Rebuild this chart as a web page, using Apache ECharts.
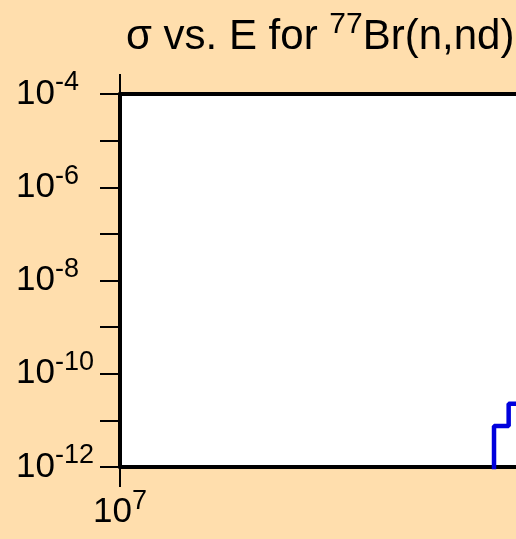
<!DOCTYPE html>
<html>
<head>
<meta charset="utf-8">
<script src="https://cdn.jsdelivr.net/npm/echarts@6/dist/echarts.min.js"></script>
<style>
  html, body { margin: 0; padding: 0; background: #FFDEAD; overflow: hidden; }
  #chart { width: 516px; height: 539px; }
</style>
</head>
<body>
<div id="chart"></div>
<script>
// energy (eV) and cross section values
const energies = [1.45e7, 1.5e7, 1.524e7, 1.56e7];
const sigma = [1e-14, 7.6e-12, 2.26e-11, 2.26e-11];

const xRange = [1e7, 1e8];
const yRange = [1e-12, 1e-4];
const xLabelValues = [1e7];

const font = "'Liberation Sans', Arial, sans-serif";

function powLabel(v) {
  const e = Math.round(Math.log10(v));
  return '{b|10}{s|' + e + '}';
}

const labelRich = {
  b: { fontSize: 35, lineHeight: 35, color: '#000', fontFamily: font },
  s: { fontSize: 27, lineHeight: 27, color: '#000', fontFamily: font, padding: [0, 0, 22, 0] }
};

const chart = echarts.init(document.getElementById('chart'));

const option = {
  backgroundColor: '#FFDEAD',
  animation: false,
  title: {
    text: '{a|σ vs. E for }{s|77}{a|Br(n,nd)}',
    left: 126,
    top: 16,
    padding: 0,
    textStyle: {
      fontWeight: 'normal',
      rich: {
        a: { fontSize: 42, lineHeight: 42, color: '#000', fontFamily: font, fontWeight: 'normal' },
        s: { fontSize: 30, lineHeight: 30, color: '#000', fontFamily: font, fontWeight: 'normal', padding: [0, 0, 24, 0] }
      }
    }
  },
  grid: {
    left: 120,
    top: 94,
    width: 2124,
    height: 373,
    show: true,
    backgroundColor: '#fff',
    borderWidth: 0,
    outerBoundsMode: 'none'
  },
  xAxis: [
    {
      type: 'log',
      position: 'bottom',
      min: xRange[0],
      max: xRange[1],
      axisLine: { lineStyle: { color: '#000', width: 4 } },
      axisTick: { length: 20, lineStyle: { color: '#000', width: 2 } },
      splitLine: { show: false },
      axisLabel: {
        margin: 28,
        formatter: v => xLabelValues.some(x => Math.abs(x - v) / x < 1e-6) ? powLabel(v) : '',
        rich: labelRich
      }
    },
    {
      type: 'log',
      position: 'top',
      min: xRange[0],
      max: xRange[1],
      axisLine: { lineStyle: { color: '#000', width: 4 } },
      axisTick: { length: 20, lineStyle: { color: '#000', width: 2 } },
      splitLine: { show: false },
      axisLabel: { show: false }
    }
  ],
  yAxis: {
    type: 'log',
    min: yRange[0],
    max: yRange[1],
    axisLine: { show: true, lineStyle: { color: '#000', width: 4 } },
    axisTick: { show: true, length: 20, lineStyle: { color: '#000', width: 2 } },
    splitLine: { show: false },
    axisLabel: {
      align: 'left',
      margin: 104,
      formatter: v => {
        const e = Math.round(Math.log10(v));
        return e % 2 === 0 ? powLabel(v) : '';
      },
      rich: labelRich
    }
  },
  series: [
    {
      type: 'line',
      step: 'end',
      xAxisIndex: 0,
      symbol: 'none',
      clip: true,
      lineStyle: { color: '#0000DD', width: 4.5 },
      data: energies.map((e, i) => [e, sigma[i]])
    }
  ]
};

chart.setOption(option);
</script>
</body>
</html>
